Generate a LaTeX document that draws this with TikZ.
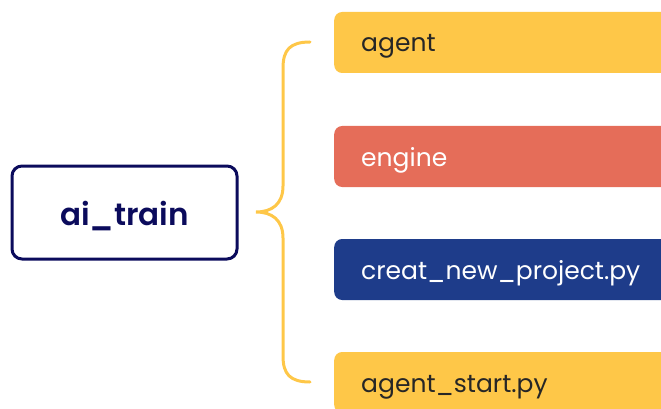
\documentclass[tikz,border=0pt]{standalone}
\usepackage{fontspec}
\setmainfont{Poppins}[BoldFont=* SemiBold]
\definecolor{yel}{HTML}{FEC748}
\definecolor{redb}{HTML}{E56D59}
\definecolor{blub}{HTML}{1E3C8A}
\definecolor{navy}{HTML}{0B0B5C}
\definecolor{dtext}{HTML}{262626}
\tikzset{
  leaf/.style={anchor=west, rounded corners=8pt, minimum height=61pt, text width=300pt, text height=19pt, text depth=0pt, inner xsep=27pt, inner ysep=0pt, font=\fontsize{25}{30}\selectfont, align=left},
  rootbox/.style={draw=navy, line width=3pt, rounded corners=10pt, fill=white, minimum width=225pt, minimum height=93pt, text height=25pt, text depth=0pt, inner ysep=0pt, text=navy, font=\fontsize{31}{36}\selectfont\bfseries},
  brace/.style={draw=yel, line width=3pt, line cap=round}
}
\begin{document}
\begin{tikzpicture}[x=1pt,y=-1pt]
\useasboundingbox (0,0) rectangle (661,409);
\clip (0,0) rectangle (661,409);
\node[rootbox] (root) at (124.5,212.5) {ai\_train};
\node[leaf, fill=yel, text=dtext] (a) at (334,42.5) {agent};
\node[leaf, fill=redb, text=white] (e) at (334,156.5) {engine};
\node[leaf, fill=blub, text=white] (c) at (334,269.5) {creat\_new\_project.py};
\node[leaf, fill=yel, text=dtext] (s) at (334,382.5) {agent\_start.py};
\coordinate (tip) at (256,212);
\coordinate (top) at (310,42);
\coordinate (bot) at (310,382);
\draw[brace] (top) .. controls (290,42) and (283,50) .. (283,68) -- (283,186)
  .. controls (283,204) and (272,212) .. (tip)
  .. controls (272,212) and (283,220) .. (283,238) -- (283,356)
  .. controls (283,374) and (290,382) .. (bot);
\end{tikzpicture}
\end{document}
